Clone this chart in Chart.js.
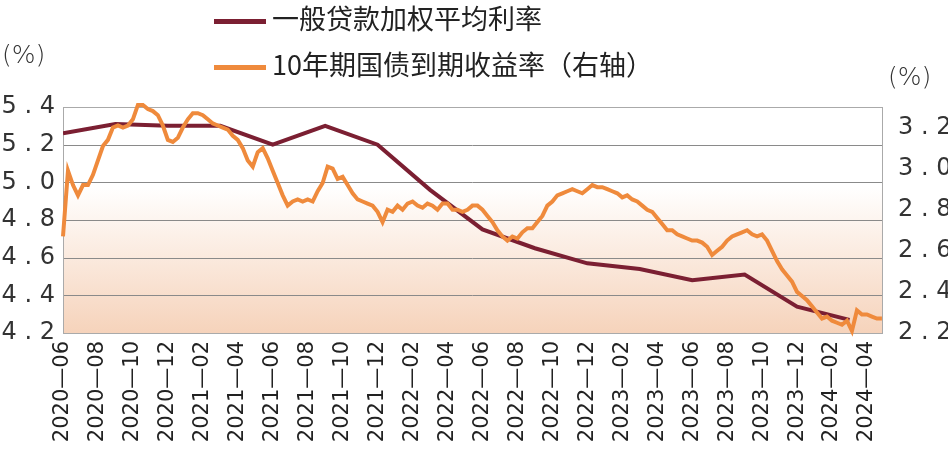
<!DOCTYPE html>
<html><head><meta charset="utf-8">
<script src="https://cdn.jsdelivr.net/npm/chart.js@4"></script>
<style>
body{margin:0;background:#fff;font-family:"Noto Sans CJK SC",sans-serif;}
#wrap{position:relative;width:948px;height:473px;}
.lg{position:absolute;font-size:27px;color:#222;white-space:nowrap;}
.sw{display:inline-block;width:52px;height:5px;vertical-align:middle;margin-right:6px;}
.pc{position:absolute;font-size:25px;color:#333;font-family:"DejaVu Sans";font-weight:300;}
</style></head><body>
<div id="wrap">
<canvas id="c" width="948" height="473"></canvas>
<div class="lg" style="left:214px;top:-2px"><span class="sw" style="background:#7b1f32"></span>一般贷款加权平均利率</div>
<div class="lg" style="left:214px;top:44px"><span class="sw" style="background:#ef8a3c"></span>10年期国债到期收益率（右轴）</div>
<div class="pc" style="left:2px;top:40px">(%)</div>
<div class="pc" style="left:888px;top:62px">(%)</div>
</div>
<script>
const startYear = 2020, startMonth = 6;
const tickMonths = [0,2,4,6,8,10,12,14,16,18,20,22,24,26,28,30,32,34,36,38,40,42,44,46];
const loanMonths = [0,3,6,9,12,15,18,21,24,27,30,33,36,39,42,45];
const loanRates = [5.26,5.31,5.30,5.30,5.20,5.30,5.20,4.96,4.75,4.65,4.57,4.54,4.48,4.51,4.34,4.27];
const bondStepMonths = 0.2857;
const bondYields = [2.67,2.99,2.92,2.87,2.92,2.92,2.97,3.04,3.11,3.14,3.20,3.21,3.20,3.21,3.24,3.31,3.31,3.29,3.28,3.26,3.21,3.14,3.13,3.15,3.20,3.24,3.27,3.27,3.26,3.24,3.22,3.21,3.20,3.19,3.16,3.14,3.10,3.04,3.01,3.08,3.10,3.05,2.99,2.93,2.87,2.82,2.84,2.85,2.84,2.85,2.84,2.89,2.93,3.01,3.00,2.95,2.96,2.92,2.88,2.85,2.84,2.83,2.82,2.79,2.74,2.80,2.79,2.82,2.80,2.83,2.84,2.82,2.81,2.83,2.82,2.80,2.83,2.83,2.80,2.80,2.79,2.80,2.82,2.82,2.80,2.77,2.74,2.70,2.67,2.65,2.67,2.66,2.69,2.71,2.71,2.74,2.77,2.82,2.84,2.87,2.88,2.89,2.90,2.89,2.88,2.90,2.92,2.91,2.91,2.90,2.89,2.88,2.86,2.87,2.85,2.84,2.82,2.80,2.79,2.76,2.73,2.70,2.70,2.68,2.67,2.66,2.65,2.65,2.64,2.62,2.58,2.60,2.62,2.65,2.67,2.68,2.69,2.70,2.68,2.67,2.68,2.65,2.60,2.55,2.51,2.48,2.45,2.40,2.38,2.36,2.33,2.30,2.27,2.28,2.26,2.25,2.24,2.26,2.21,2.31,2.29,2.29,2.28,2.27,2.27];
const loanData = loanMonths.map((m,i)=>({x:m,y:loanRates[i]}));
const bondData = bondYields.map((v,i)=>({x:i*bondStepMonths,y:v}));
function monthLabel(m){const t=startYear*12+startMonth-1+m;const y=Math.floor(t/12),mo=t%12+1;return y+'—'+String(mo).padStart(2,'0');}
const bg={id:'bg',beforeDatasetsDraw(ch){const a=ch.chartArea,c=ch.ctx;const g=c.createLinearGradient(0,a.top,0,a.bottom);g.addColorStop(0,'#ffffff');g.addColorStop(0.35,'#ffffff');g.addColorStop(1,'#f6d3bb');c.save();c.fillStyle=g;c.fillRect(a.left,a.top,a.right-a.left,a.bottom-a.top);
const yl=ch.scales.y;c.strokeStyle='#8a8a8a';c.lineWidth=1;yl.ticks.forEach(t=>{const p=Math.round(yl.getPixelForValue(t.value))+0.5;c.beginPath();c.moveTo(a.left,p);c.lineTo(a.right,p);c.stroke();});
c.strokeStyle='#aaa';c.strokeRect(a.left+0.5,a.top+0.5,a.right-a.left,a.bottom-a.top);c.restore();}};
const tickFont={family:'DejaVu Sans',size:24};
new Chart(document.getElementById('c'),{type:'line',
data:{datasets:[
{data:bondData,yAxisID:'y2',borderColor:'#ef8a3c',borderWidth:4,pointRadius:0,tension:0,clip:false},
{data:loanData,yAxisID:'y',borderColor:'#7b1f32',borderWidth:4,pointRadius:0,tension:0}]},
options:{responsive:false,animation:false,layout:{padding:{top:107,right:0,left:0,bottom:0}},
plugins:{legend:{display:false},tooltip:{enabled:false}},
scales:{
x:{type:'linear',min:0,max:23.43*2,afterBuildTicks(s){s.ticks=tickMonths.map(v=>({value:v}));},
 ticks:{callback:v=>monthLabel(v),minRotation:90,maxRotation:90,color:'#222',font:{family:'DejaVu Sans',size:21},padding:2,autoSkip:false},
 grid:{display:false,drawTicks:true,tickLength:6,color:'#666'},border:{display:false},afterFit(s){s.height=140;}},
y:{position:'left',min:4.2,max:5.4,ticks:{stepSize:0.2,callback:v=>v.toFixed(1).split('').join(' '),color:'#333',font:tickFont,padding:0},
 grid:{display:false},border:{display:false},afterFit(s){s.width=63;}},
y2:{position:'right',min:2.2,max:3.3,afterBuildTicks(s){s.ticks=[2.2,2.4,2.6,2.8,3.0,3.2].map(v=>({value:v}));},
 ticks:{callback:v=>v.toFixed(1).split('').join(' '),color:'#333',font:tickFont,padding:8},
 grid:{display:false},border:{display:false},afterFit(s){s.width=66;}}
}},plugins:[bg]});
</script></body></html>
